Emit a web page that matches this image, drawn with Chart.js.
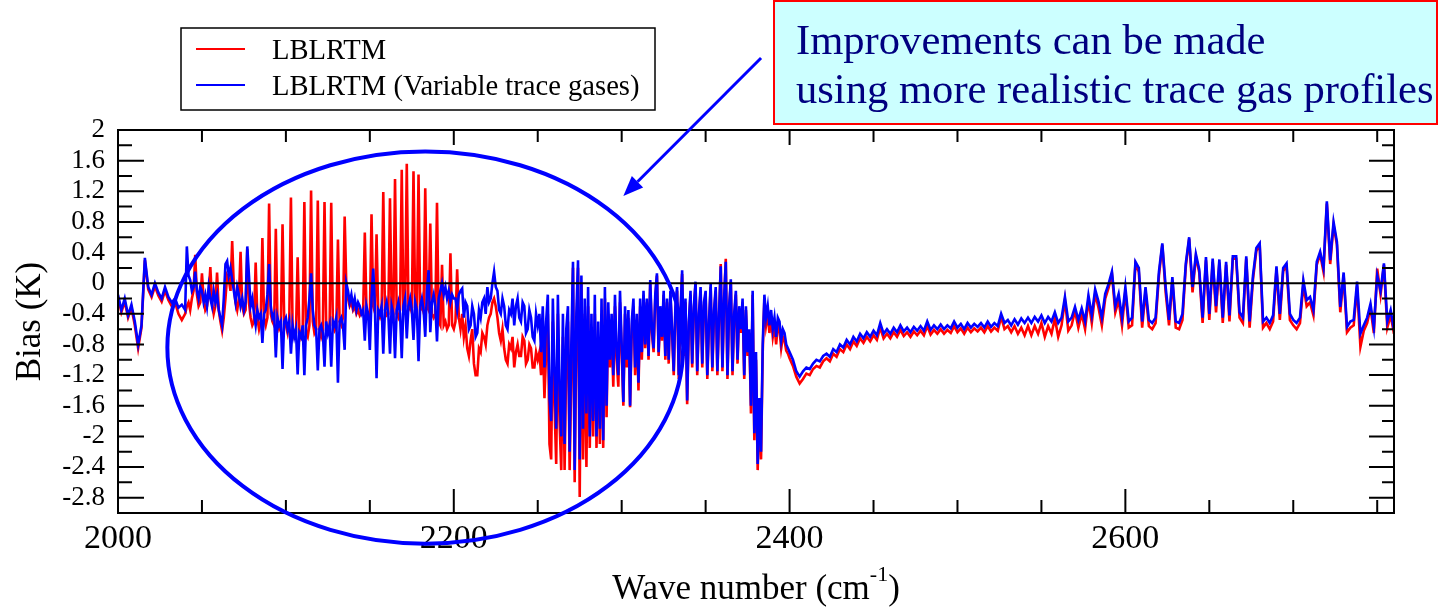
<!DOCTYPE html>
<html>
<head>
<meta charset="utf-8">
<title>LBLRTM bias vs wave number</title>
<script src="https://cdn.jsdelivr.net/npm/chart.js@4.4.1/dist/chart.umd.min.js"></script>
<style>
  html, body { margin: 0; padding: 0; background: #fff; }
  #wrap { position: relative; width: 1440px; height: 611px; }
</style>
</head>
<body>
<div id="wrap"><canvas id="chart"></canvas></div>
<script>
const SERIF = '"Liberation Serif", "Times New Roman", serif';

// sampling of the spectrum (cm-1): 1 cm-1 over the busy part
const segmentStart = [2000, 2041, 2402];
const segmentEnd   = [2040, 2400, 2760];
const segmentStep  = [2, 1, 2];

const xTickValues = [2000, 2200, 2400, 2600];

const seriesNames  = ['LBLRTM', 'LBLRTM (Variable trace gases)'];
const seriesColors = ['#ff0000', '#0000ff'];

// bias (K)
const lblrtm = [
  // 2000-2040 (step 2)
  -0.18,-0.38,-0.24,-0.45,-0.32,-0.55,-0.85,-0.58,0.30,-0.08,
  -0.18,-0.04,-0.16,-0.24,-0.10,-0.22,-0.30,-0.25,-0.40,-0.48,
  -0.40,
  // 2041-2400 (step 1)
  -0.30,-0.25,-0.35,-0.20,-0.10,0.37,-0.15,-0.30,-0.25,0.13,
  -0.20,-0.35,-0.30,-0.15,0.21,-0.25,-0.40,-0.30,0.14,-0.35,
  -0.50,-0.62,-0.45,-0.20,0.10,0.05,-0.10,0.55,-0.05,-0.25,
  -0.35,-0.20,0.41,-0.30,-0.40,-0.35,0.45,-0.25,-0.45,-0.55,
  -0.50,0.27,-0.45,-0.60,-0.50,0.59,-0.45,-0.55,-0.45,1.04,
  -0.40,-0.50,-0.55,0.71,-0.50,-0.60,-0.55,0.77,-0.50,-0.55,
  -0.65,-0.50,1.12,-0.60,-0.70,-0.65,0.34,-0.60,-0.70,-0.62,
  1.06,-0.65,-0.70,-0.55,1.21,-0.50,-0.65,-0.60,1.08,-0.60,
  -0.70,-0.62,1.06,-0.55,-0.65,-0.60,1.05,-0.55,-0.62,-0.58,
  0.57,-0.50,-0.55,-0.45,0.87,-0.05,-0.20,-0.30,-0.25,-0.35,
  -0.30,-0.40,-0.35,-0.42,-0.38,-0.40,0.66,-0.35,-0.40,-0.45,
  0.90,-0.30,-0.38,0.64,-0.40,-0.45,-0.38,1.19,-0.35,-0.42,
  -0.40,1.11,-0.38,-0.45,1.36,-0.40,-0.45,-0.35,1.48,-0.38,
  -0.30,1.56,-0.35,-0.30,-0.38,1.46,-0.32,-0.40,1.42,-0.35,
  -0.30,-0.38,1.24,-0.30,-0.35,0.78,-0.40,-0.45,-0.40,1.05,
  -0.50,-0.55,0.24,-0.55,-0.50,-0.60,-0.55,0.39,-0.55,-0.60,
  -0.50,0.18,-0.45,-0.60,-0.40,-0.70,-0.55,-0.85,-0.95,-0.75,
  -0.60,-1.05,-1.20,-1.20,-0.85,-0.90,-0.65,-0.70,-0.80,-0.55,
  -0.45,-0.40,-0.25,-0.20,-0.30,-0.45,-0.65,-0.75,-0.60,-0.85,
  -1.00,-1.05,-0.80,-0.85,-0.70,-1.10,-0.90,-0.80,-0.95,-0.95,
  -0.70,-0.75,-1.05,-1.00,-0.80,-0.85,-1.10,-1.10,-0.90,-1.00,
  -0.90,-1.20,-0.70,-1.50,-0.90,-0.40,-2.10,-2.30,-0.50,-1.60,
  -2.36,-0.40,-1.80,-2.44,-0.70,-2.44,-1.00,-0.50,-2.44,-1.20,
  0.20,-2.60,-0.70,0.20,-2.79,0.00,-2.30,-0.40,-2.40,-0.30,
  -2.15,-0.60,-2.00,-0.40,-2.15,-0.70,-2.10,-0.40,-2.15,-0.20,
  -1.75,-0.40,-1.10,-0.55,-1.35,-0.30,-1.00,-1.35,-0.25,-0.90,
  -1.60,-0.40,-1.10,-0.45,-1.62,-0.60,-0.30,-1.20,-0.50,-1.40,
  -0.30,-1.00,-0.15,-0.85,-0.25,-1.00,0.00,-0.65,-0.90,-0.20,
  0.10,-0.95,-0.35,-0.75,-0.15,-1.00,-0.25,-1.05,-0.15,-0.65,
  -1.20,-0.35,-0.10,-1.25,-0.45,0.12,-0.95,-0.25,-1.58,-0.55,
  -0.15,-1.10,-0.35,0.00,-1.20,-0.45,-0.10,-1.10,-0.30,-0.15,
  -1.25,-0.55,-0.05,-1.15,-0.40,-0.10,-1.20,-0.45,0.25,-1.15,
  -0.25,0.32,-1.25,-0.35,0.02,-1.20,-0.45,-0.15,-1.05,-0.35,
  -0.65,-0.25,-1.25,-0.35,-0.95,-0.65,-1.70,-0.15,-2.05,-1.00,
  -2.44,-1.60,-2.30,-0.90,-0.20,-0.55,-0.40,-0.65,-0.45,-0.70,
  -0.55,-0.80,-0.55,-0.60,-0.85,-0.70,-0.75,-0.88,-0.92,-0.98,
  // 2402-2760 (step 2)
  -1.08,-1.22,-1.31,-1.25,-1.18,-1.20,-1.12,-1.08,-1.10,-1.02,
  -0.98,-1.02,-0.92,-0.96,-0.86,-0.90,-0.80,-0.86,-0.76,-0.82,
  -0.72,-0.78,-0.70,-0.76,-0.68,-0.74,-0.58,-0.72,-0.66,-0.72,
  -0.64,-0.70,-0.61,-0.69,-0.64,-0.70,-0.63,-0.68,-0.62,-0.68,
  -0.56,-0.67,-0.61,-0.66,-0.60,-0.66,-0.61,-0.65,-0.56,-0.64,
  -0.59,-0.66,-0.58,-0.64,-0.59,-0.63,-0.58,-0.64,-0.56,-0.63,
  -0.58,-0.62,-0.44,-0.60,-0.56,-0.64,-0.56,-0.66,-0.58,-0.68,
  -0.56,-0.68,-0.56,-0.66,-0.52,-0.70,-0.56,-0.66,-0.46,-0.70,
  -0.55,-0.22,-0.62,-0.55,-0.36,-0.58,-0.40,-0.60,-0.22,-0.52,
  -0.14,-0.32,-0.55,-0.20,-0.06,0.12,-0.38,-0.22,-0.55,-0.10,
  -0.58,-0.55,0.25,0.15,-0.58,-0.10,-0.56,-0.60,-0.52,0.10,
  0.50,-0.12,-0.55,0.04,-0.58,-0.60,-0.48,0.22,0.58,-0.12,
  0.35,0.14,-0.52,0.30,-0.48,0.28,-0.38,0.27,-0.52,0.24,
  -0.50,0.32,0.32,-0.45,-0.52,0.32,-0.58,0.05,0.42,0.50,
  -0.58,-0.52,-0.60,-0.50,0.18,-0.48,0.16,0.22,-0.48,-0.55,
  -0.60,-0.52,-0.02,-0.30,-0.25,-0.42,0.24,0.38,0.15,1.04,
  0.25,0.76,0.50,-0.38,0.10,-0.64,-0.58,-0.55,-0.04,-0.83,
  -0.62,-0.52,-0.32,-0.65,0.19,-0.15,0.24,-0.58,-0.42,-0.66
];

const lblrtmVariable = [
  // 2000-2040 (step 2)
  -0.15,-0.35,-0.20,-0.42,-0.28,-0.50,-0.80,-0.55,0.33,-0.05,
  -0.15,0.00,-0.12,-0.20,-0.05,-0.18,-0.25,-0.20,-0.32,-0.28,
  -0.35,
  // 2041-2400 (step 1)
  0.48,0.10,0.04,-0.10,-0.05,0.15,-0.10,-0.20,-0.05,-0.10,
  -0.25,-0.15,-0.30,-0.05,-0.20,-0.30,-0.10,-0.25,-0.15,-0.35,
  -0.45,-0.55,-0.20,0.25,0.29,0.10,0.20,0.05,-0.10,-0.25,
  -0.05,-0.15,-0.30,-0.20,-0.35,-0.25,0.48,0.10,-0.30,-0.20,
  -0.40,-0.55,-0.35,-0.45,-0.40,-0.78,-0.40,-0.35,-0.15,0.25,
  -0.30,-0.45,-0.40,-0.97,-0.45,-0.55,-0.50,-1.12,-0.50,-0.45,
  -0.60,-0.50,-0.92,-0.55,-0.70,-0.60,-1.19,-0.65,-0.70,-0.55,
  -1.20,-0.55,-0.45,-0.20,0.13,-0.35,-0.55,-0.60,-1.14,-0.60,
  -0.55,-0.65,-1.09,-0.50,-0.65,-0.55,-1.09,-0.50,-0.55,-0.45,
  -1.30,-0.50,-0.45,-0.55,-0.87,0.00,-0.10,-0.25,-0.15,-0.30,
  -0.20,-0.35,-0.25,-0.30,-0.40,-0.35,-0.75,-0.30,-0.40,-0.87,
  -0.20,0.19,-0.30,-1.24,-0.35,-0.40,-0.30,-0.92,-0.35,-0.25,
  -0.40,-0.92,-0.30,-0.40,-0.98,-0.35,-0.25,-0.40,-0.98,-0.30,
  -0.20,-0.72,-0.30,-0.20,-0.35,-0.74,-0.25,-0.35,-1.02,-0.30,
  -0.20,-0.35,-0.70,-0.10,0.17,-0.64,-0.25,-0.15,-0.30,-0.76,
  -0.20,-0.10,0.00,-0.15,-0.05,-0.20,-0.10,-0.25,-0.15,-0.20,
  -0.20,-0.35,-0.15,-0.10,-0.07,-0.45,-0.25,-0.30,-0.60,-0.55,
  -0.30,-0.40,-0.70,-0.65,-0.35,-0.45,-0.25,-0.20,-0.40,-0.05,
  -0.25,-0.20,0.00,0.15,-0.05,-0.10,-0.35,-0.40,-0.20,-0.30,
  -0.55,-0.60,-0.35,-0.40,-0.20,-0.55,-0.30,-0.20,-0.45,-0.50,
  -0.25,-0.30,-0.65,-0.60,-0.35,-0.45,-0.70,-0.75,-0.40,-0.55,
  -0.40,-0.90,-0.30,-1.10,-0.50,-0.15,-1.50,-1.80,-0.20,-1.20,
  -1.90,-0.15,-1.40,-2.00,-0.40,-2.10,-0.60,-0.30,-2.20,-0.80,
  0.28,-2.44,-0.40,0.30,-2.30,0.10,-1.90,-0.20,-1.70,-0.05,
  -2.00,-0.40,-1.80,-0.15,-2.00,-0.50,-1.90,-0.20,-2.05,-0.05,
  -1.60,-0.25,-1.00,-0.40,-1.20,-0.15,-0.90,-1.20,-0.10,-0.80,
  -1.55,-0.30,-1.00,-0.35,-1.60,-0.50,-0.20,-1.10,-0.40,-1.30,
  -0.20,-0.90,-0.10,-0.80,-0.20,-0.95,0.04,-0.60,-0.85,-0.15,
  0.13,-0.90,-0.30,-0.70,-0.10,-0.95,-0.20,-1.00,-0.10,-0.60,
  -1.15,-0.30,-0.05,-1.20,-0.40,0.17,-0.90,-0.20,-1.53,-0.50,
  -0.10,-1.05,-0.30,0.02,-1.15,-0.40,-0.05,-1.05,-0.25,-0.10,
  -1.20,-0.50,0.00,-1.10,-0.35,-0.05,-1.15,-0.40,0.22,-1.10,
  -0.20,0.28,-1.20,-0.30,0.05,-1.15,-0.40,-0.10,-1.00,-0.30,
  -0.60,-0.20,-1.20,-0.30,-0.90,-0.60,-1.60,-0.10,-1.96,-0.90,
  -2.36,-1.50,-2.20,-0.80,-0.15,-0.45,-0.30,-0.55,-0.35,-0.60,
  -0.45,-0.70,-0.45,-0.50,-0.75,-0.60,-0.65,-0.80,-0.85,-0.90,
  // 2402-2760 (step 2)
  -1.00,-1.15,-1.22,-1.15,-1.10,-1.12,-1.05,-1.00,-1.02,-0.95,
  -0.92,-0.96,-0.86,-0.90,-0.80,-0.84,-0.74,-0.80,-0.70,-0.76,
  -0.66,-0.72,-0.64,-0.70,-0.62,-0.68,-0.52,-0.66,-0.60,-0.66,
  -0.58,-0.64,-0.55,-0.63,-0.58,-0.64,-0.57,-0.62,-0.56,-0.62,
  -0.50,-0.61,-0.55,-0.60,-0.54,-0.60,-0.55,-0.59,-0.50,-0.58,
  -0.53,-0.60,-0.52,-0.58,-0.53,-0.57,-0.52,-0.58,-0.50,-0.57,
  -0.52,-0.56,-0.40,-0.52,-0.48,-0.55,-0.47,-0.54,-0.46,-0.52,
  -0.45,-0.52,-0.44,-0.50,-0.42,-0.52,-0.44,-0.50,-0.38,-0.52,
  -0.45,-0.18,-0.50,-0.45,-0.31,-0.48,-0.33,-0.50,-0.16,-0.42,
  -0.08,-0.24,-0.45,-0.14,-0.01,0.15,-0.30,-0.14,-0.45,-0.05,
  -0.50,-0.45,0.28,0.20,-0.50,-0.05,-0.48,-0.52,-0.45,0.15,
  0.52,-0.05,-0.48,0.08,-0.50,-0.52,-0.40,0.26,0.60,-0.05,
  0.38,0.18,-0.45,0.34,-0.40,0.32,-0.30,0.31,-0.45,0.28,
  -0.42,0.35,0.35,-0.38,-0.45,0.35,-0.50,0.10,0.46,0.52,
  -0.50,-0.45,-0.52,-0.42,0.22,-0.40,0.20,0.26,-0.40,-0.48,
  -0.52,-0.45,0.04,-0.22,-0.18,-0.35,0.28,0.41,0.20,1.07,
  0.30,0.80,0.54,-0.31,0.14,-0.57,-0.50,-0.48,0.02,-0.66,
  -0.55,-0.45,-0.27,-0.58,0.10,-0.10,0.26,-0.50,-0.35,-0.61
];

const wavenumber = [];
segmentStart.forEach((start, i) => {
  for (let w = start; w <= segmentEnd[i]; w += segmentStep[i]) wavenumber.push(w);
});

function toPoints(values) {
  return values.map((v, i) => ({ x: wavenumber[i], y: v }));
}

const calloutLines = ['Improvements can be made', 'using more realistic trace gas profiles'];

// inward ticks, zero line and frame, drawn over the spectra
const frameAndTicks = {
  id: 'frameAndTicks',
  afterDatasetsDraw(chart) {
    const { ctx, chartArea: a, scales: { x, y } } = chart;
    ctx.save();
    ctx.strokeStyle = '#000';
    ctx.lineWidth = 2;
    const y0 = y.getPixelForValue(0);
    ctx.beginPath();
    ctx.moveTo(a.left, y0);
    ctx.lineTo(a.right, y0);
    for (let k = -15; k <= 10; k++) {
      const py = y.getPixelForValue(k * 0.2);
      const major = k % 2 === 0;
      ctx.moveTo(a.left, py);  ctx.lineTo(a.left + (major ? 26 : 14), py);
      ctx.moveTo(a.right, py); ctx.lineTo(a.right - (major ? 25 : 12), py);
    }
    for (let w = 2000; w <= 2760; w += 50) {
      const px = x.getPixelForValue(w);
      const major = w % 200 === 0;
      ctx.moveTo(px, a.bottom); ctx.lineTo(px, a.bottom - (major ? 24 : 13));
      ctx.moveTo(px, a.top);    ctx.lineTo(px, a.top + (major ? 15 : 12));
    }
    ctx.stroke();
    ctx.strokeRect(a.left, a.top, a.right - a.left, a.bottom - a.top);
    ctx.restore();
  }
};

// legend box, callout, ellipse, arrow, x title with superscript
const overlay = {
  id: 'overlay',
  afterDraw(chart) {
    const { ctx, chartArea: a, scales: { x, y } } = chart;
    ctx.save();

    // legend
    ctx.strokeStyle = '#000';
    ctx.lineWidth = 1.5;
    ctx.strokeRect(181, 28, 474, 82);
    ctx.font = '28.6px ' + SERIF;
    ctx.textBaseline = 'alphabetic';
    ctx.fillStyle = '#000';
    chart.data.datasets.forEach((ds, i) => {
      const ly = 49 + i * 36;
      ctx.strokeStyle = ds.borderColor;
      ctx.lineWidth = 2;
      ctx.beginPath();
      ctx.moveTo(196, ly);
      ctx.lineTo(245, ly);
      ctx.stroke();
      ctx.fillText(ds.label, 272, ly + 10);
    });

    // callout box
    ctx.fillStyle = '#ccffff';
    ctx.fillRect(774, 1, 663, 123);
    ctx.strokeStyle = '#ff0000';
    ctx.lineWidth = 2;
    ctx.strokeRect(774, 1, 663, 123);
    ctx.fillStyle = '#000080';
    ctx.font = '42.6px ' + SERIF;
    ctx.fillText(calloutLines[0], 796, 54);
    ctx.fillText(calloutLines[1], 796, 103);

    // ellipse around the 2040-2340 region
    ctx.strokeStyle = '#0000ff';
    ctx.lineWidth = 4;
    const cx = x.getPixelForValue(2183), cy = y.getPixelForValue(-0.84);
    const rx = x.getPixelForValue(2183 + 153.6) - cx;
    const ry = y.getPixelForValue(-0.84 - 2.56) - cy;
    ctx.beginPath();
    ctx.ellipse(cx, cy, rx, ry, 0, 0, Math.PI * 2);
    ctx.stroke();

    // arrow from the callout
    const x1 = x.getPixelForValue(2383), y1 = y.getPixelForValue(2.94);
    const x2 = x.getPixelForValue(2301), y2 = y.getPixelForValue(1.14);
    const ang = Math.atan2(y2 - y1, x2 - x1);
    const head = 20, half = 8;
    const bx = x2 - head * Math.cos(ang), by = y2 - head * Math.sin(ang);
    ctx.lineWidth = 3;
    ctx.beginPath();
    ctx.moveTo(x1, y1);
    ctx.lineTo(bx, by);
    ctx.stroke();
    ctx.fillStyle = '#0000ff';
    ctx.beginPath();
    ctx.moveTo(x2, y2);
    ctx.lineTo(bx + half * Math.sin(ang), by - half * Math.cos(ang));
    ctx.lineTo(bx - half * Math.sin(ang), by + half * Math.cos(ang));
    ctx.closePath();
    ctx.fill();

    // x axis title
    const main = 'Wave number (cm', sup = '-1', close = ')';
    ctx.fillStyle = '#000';
    ctx.font = '35px ' + SERIF;
    const w1 = ctx.measureText(main).width, w3 = ctx.measureText(close).width;
    ctx.font = '22px ' + SERIF;
    const w2 = ctx.measureText(sup).width;
    const tx = (a.left + a.right) / 2 - (w1 + w2 + w3) / 2;
    const base = a.bottom + 86;
    ctx.font = '35px ' + SERIF;
    ctx.fillText(main, tx, base);
    ctx.font = '22px ' + SERIF;
    ctx.fillText(sup, tx + w1, base - 18);
    ctx.font = '35px ' + SERIF;
    ctx.fillText(close, tx + w1 + w2, base);

    ctx.restore();
  }
};

new Chart(document.getElementById('chart'), {
  type: 'line',
  data: {
    datasets: [
      { label: seriesNames[0], data: toPoints(lblrtm), borderColor: seriesColors[0], order: 1 },
      { label: seriesNames[1], data: toPoints(lblrtmVariable), borderColor: seriesColors[1], order: 0 }
    ]
  },
  options: {
    responsive: true,
    maintainAspectRatio: false,
    animation: false,
    layout: { padding: { top: 130, right: 46, left: 0, bottom: 0 } },
    elements: {
      point: { radius: 0 },
      line: { borderWidth: 2.6, tension: 0, fill: false }
    },
    plugins: { legend: { display: false }, tooltip: { enabled: false } },
    scales: {
      x: {
        type: 'linear', min: 2000, max: 2760,
        afterFit: s => { s.height = 98; },
        afterBuildTicks: s => { s.ticks = xTickValues.map(v => ({ value: v })); },
        grid: { display: false, drawTicks: false },
        border: { display: false },
        ticks: {
          autoSkip: false, maxRotation: 0,
          padding: 6, color: '#000', font: { family: SERIF, size: 34 },
          callback: v => String(v)
        }
      },
      y: {
        min: -3, max: 2,
        afterFit: s => { s.width = 118; },
        grid: { display: false, drawTicks: false },
        border: { display: false },
        ticks: {
          stepSize: 0.4, includeBounds: false, autoSkip: false,
          padding: 13, color: '#000', font: { family: SERIF, size: 27 },
          callback: v => String(Math.round(v * 10) / 10)
        },
        title: {
          display: true, text: 'Bias (K)', color: '#000',
          font: { family: SERIF, size: 35 }, padding: { top: 10, bottom: 0 }
        }
      }
    }
  },
  plugins: [frameAndTicks, overlay]
});
</script>
</body>
</html>
